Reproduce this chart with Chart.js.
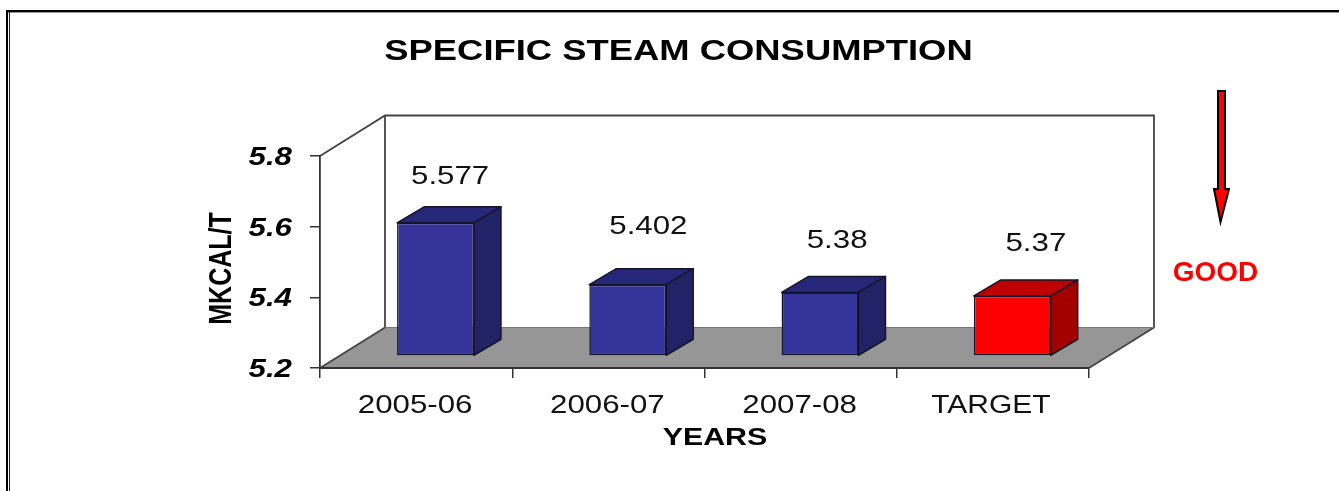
<!DOCTYPE html>
<html>
<head>
<meta charset="utf-8">
<style>html,body{margin:0;padding:0;background:#fff}canvas{display:block}</style>
<script src="https://cdn.jsdelivr.net/npm/chart.js@4"></script>
</head>
<body>
<canvas id="c" width="1339" height="491"></canvas>
<script>
const categories = ['2005-06', '2006-07', '2007-08', 'TARGET'];
const steamValues = [5.577, 5.402, 5.38, 5.37];
const axisMin = 5.2;
const axisMax = 5.8;
const axisStep = 0.2;
const titleText = 'SPECIFIC STEAM CONSUMPTION';
const yTitle = 'MKCAL/T';
const xTitle = 'YEARS';
const noteText = 'GOOD';

// styling, separate from the data
const barFront = ['#333399', '#333399', '#333399', '#FF0000'];
const barTop = ['#27277A', '#27277A', '#27277A', '#BF0000'];
const barSide = ['#222266', '#222266', '#222266', '#A30000'];
const labelDx = [34, 40, 36.5, 43];
const labelDy = [-60, -71.5, -65, -66];
const FONT = '"Liberation Sans", Arial, sans-serif';
const wallDepth = { x: 65, y: -40.5 };
const barDepth = { x: 27, y: -16 };
const barShift = { x: 19.4, y: -12 };
const textStretch = { [noteText]: 1, [yTitle]: 1.22, [titleText]: 1.255, [xTitle]: 1.32, TARGET: 1.2 };
const textNudge = { [xTitle]: [10.5, 0], [yTitle]: [-6.5, 0], TARGET: [-2, 0], '2005-06': [-1, 0], '2006-07': [-1, 0], '2007-08': [-1, 0] };

function installStretch(ctx) {
  if (ctx.__stretched) return;
  ctx.__stretched = true;
  const orig = ctx.fillText.bind(ctx);
  ctx.fillText = function (t, x, y) {
    const s = textStretch[t] || 1.25;
    const n = textNudge[t] || [0, 0];
    const rotated = Math.abs(ctx.getTransform().b) > 0.01;
    ctx.save();
    ctx.translate(x + n[0], y + n[1] + (rotated ? 0 : 2));
    if (rotated) ctx.scale(1, s); else ctx.scale(s, 1);
    orig(t, 0, 0);
    ctx.restore();
  };
}

const scene = {
  id: 'scene',
  beforeDraw(chart) {
    const ctx = chart.ctx;
    installStretch(ctx);
    const a = chart.chartArea;
    const dx = wallDepth.x, dy = wallDepth.y;
    ctx.save();
    // page frame
    ctx.fillStyle = '#000';
    ctx.fillRect(6, 10, 1333, 2.4);
    ctx.fillRect(6, 10, 2, 481);
    ctx.fillStyle = '#222';
    ctx.fillRect(9, 12, 1, 479);
    // floor
    ctx.fillStyle = '#969696';
    ctx.beginPath();
    ctx.moveTo(a.left, a.bottom);
    ctx.lineTo(a.right, a.bottom);
    ctx.lineTo(a.right + dx, a.bottom + dy);
    ctx.lineTo(a.left + dx, a.bottom + dy);
    ctx.closePath();
    ctx.fill();
    // walls
    ctx.strokeStyle = '#444';
    ctx.lineWidth = 1.8;
    ctx.beginPath();
    ctx.moveTo(a.left, a.top);
    ctx.lineTo(a.left + dx, a.top + dy);
    ctx.lineTo(a.right + dx, a.top + dy);
    ctx.lineTo(a.right + dx, a.bottom + dy);
    ctx.lineTo(a.right, a.bottom);
    ctx.moveTo(a.left + dx, a.top + dy);
    ctx.lineTo(a.left + dx, a.bottom + dy);
    ctx.moveTo(a.left, a.bottom);
    ctx.lineTo(a.left + dx, a.bottom + dy);
    ctx.stroke();
    ctx.strokeStyle = '#777';
    ctx.lineWidth = 1;
    ctx.beginPath();
    ctx.moveTo(a.left + dx, a.bottom + dy);
    ctx.lineTo(a.right + dx, a.bottom + dy);
    ctx.stroke();
    // direction arrow
    ctx.fillStyle = '#FF0000';
    ctx.strokeStyle = '#000';
    ctx.lineWidth = 2;
    ctx.lineJoin = 'miter';
    ctx.beginPath();
    ctx.moveTo(1218, 91);
    ctx.lineTo(1225, 91);
    ctx.lineTo(1225, 189);
    ctx.lineTo(1229, 189);
    ctx.lineTo(1220.5, 222);
    ctx.lineTo(1214, 189);
    ctx.lineTo(1218, 189);
    ctx.closePath();
    ctx.fill();
    ctx.stroke();
    // note
    ctx.fillStyle = '#FF0000';
    ctx.font = 'bold 28px ' + FONT;
    ctx.textAlign = 'center';
    ctx.textBaseline = 'middle';
    ctx.fillText(noteText, 1215.5, 271);
    ctx.restore();
  },
  beforeDatasetsDraw(chart) {
    const ctx = chart.ctx;
    const bars = chart.getDatasetMeta(0).data;
    ctx.save();
    ctx.translate(barShift.x, barShift.y);
    ctx.strokeStyle = '#15152a';
    ctx.lineWidth = 1.5;
    ctx.lineJoin = 'round';
    bars.forEach((b, i) => {
      const l = b.x - b.width / 2, r = b.x + b.width / 2;
      const t = b.y, bt = b.base;
      const ox = barDepth.x, oy = barDepth.y;
      ctx.fillStyle = barTop[i];
      ctx.beginPath();
      ctx.moveTo(l, t);
      ctx.lineTo(l + ox, t + oy);
      ctx.lineTo(r + ox, t + oy);
      ctx.lineTo(r, t);
      ctx.closePath();
      ctx.fill();
      ctx.stroke();
      ctx.fillStyle = barSide[i];
      ctx.beginPath();
      ctx.moveTo(r, t);
      ctx.lineTo(r + ox, t + oy);
      ctx.lineTo(r + ox, bt + oy);
      ctx.lineTo(r, bt);
      ctx.closePath();
      ctx.fill();
      ctx.stroke();
    });
  },
  afterDatasetsDraw(chart) {
    const ctx = chart.ctx;
    ctx.restore();
    const bars = chart.getDatasetMeta(0).data;
    ctx.save();
    ctx.fillStyle = '#111';
    ctx.font = '25px ' + FONT;
    ctx.textAlign = 'center';
    ctx.textBaseline = 'middle';
    bars.forEach((b, i) => {
      ctx.fillText(String(steamValues[i]), b.x + labelDx[i], b.y + labelDy[i]);
    });
    ctx.restore();
  }
};

new Chart(document.getElementById('c'), {
  type: 'bar',
  data: {
    labels: categories,
    datasets: [{
      data: steamValues,
      base: axisMin,
      backgroundColor: barFront,
      borderColor: '#15152a',
      borderWidth: 1.5,
      borderSkipped: false,
      barPercentage: 0.4,
      categoryPercentage: 1,
      clip: false
    }]
  },
  plugins: [scene],
  options: {
    responsive: false,
    animation: false,
    layout: { padding: { left: 18, right: 0, top: 0, bottom: 0 } },
    plugins: {
      legend: { display: false },
      tooltip: { enabled: false },
      title: {
        display: true,
        text: titleText,
        color: '#000',
        font: { family: FONT, size: 29, weight: 'bold', lineHeight: 1.2 },
        padding: { top: 33, bottom: 88.2 }
      }
    },
    scales: {
      x: {
        grid: { drawOnChartArea: false, drawTicks: true, tickLength: 10, color: '#333', lineWidth: 1.5, offset: true },
        border: { color: '#333', width: 2 },
        ticks: {
          color: '#111',
          padding: 11,
          maxRotation: 0,
          font: { family: FONT, size: 25 }
        },
        title: {
          display: true,
          text: xTitle,
          color: '#000',
          font: { family: FONT, size: 23, weight: 'bold', lineHeight: 1.2 },
          padding: { top: 0, bottom: 41 }
        },
        afterFit(s) { s.height = 123; }
      },
      y: {
        min: axisMin,
        max: axisMax,
        grid: { drawOnChartArea: false, drawTicks: true, tickLength: 10, color: '#333', lineWidth: 1.5 },
        border: { color: '#333', width: 1.8 },
        ticks: {
          stepSize: axisStep,
          color: '#000',
          padding: 18,
          font: { family: FONT, size: 25, weight: 'bold', style: 'italic' },
          callback: v => v.toFixed(1)
        },
        title: {
          display: true,
          text: yTitle,
          color: '#000',
          font: { family: FONT, size: 25, weight: 'bold', lineHeight: 1.2 },
          padding: { top: 190, bottom: 0 }
        },
        afterFit(s) { s.width = 302; }
      },
      spacer: {
        type: 'linear',
        axis: 'y',
        position: 'right',
        min: 0,
        max: 1,
        grid: { display: false },
        border: { display: false },
        ticks: { display: false },
        afterFit(s) { s.width = 250; }
      }
    }
  }
});
</script>
</body>
</html>
